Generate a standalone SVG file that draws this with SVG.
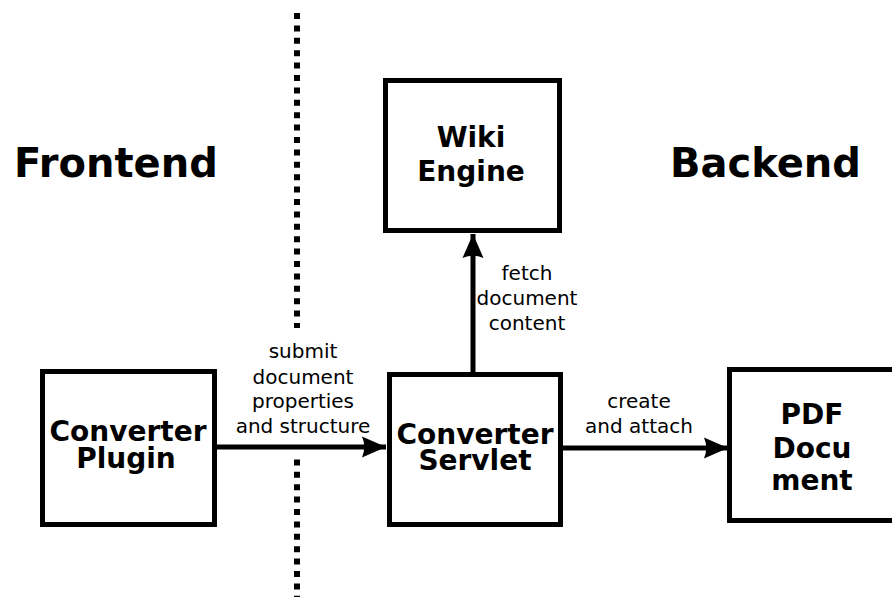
<svg xmlns="http://www.w3.org/2000/svg" width="892" height="597" viewBox="0 0 892 597">
  <style>
    .box { fill: #ffffff; stroke: #000000; stroke-width: 5; }
    .title { font-family: "DejaVu Sans", "Liberation Sans", sans-serif; font-weight: bold; font-size: 40px; fill: #000; }
    .node-label { font-family: "DejaVu Sans", "Liberation Sans", sans-serif; font-weight: bold; font-size: 28px; fill: #000; text-anchor: middle; }
    .edge-label { font-family: "DejaVu Sans", "Liberation Sans", sans-serif; font-size: 20px; fill: #000; text-anchor: middle; }
    .edge { stroke: #000; stroke-width: 5; fill: none; }
    .divider { stroke: #000; stroke-width: 6; stroke-dasharray: 6 6.4; fill: none; }
  </style>
  <defs>
    <marker id="arrow" viewBox="-25 -11 26 22" refX="0" refY="0" markerUnits="userSpaceOnUse" markerWidth="26" markerHeight="22" orient="auto">
      <path d="M0,0 L-24,-10.5 Q-19.5,0 -24,10.5 Z" fill="#000"/>
    </marker>
  </defs>

  <rect width="892" height="597" fill="#ffffff"/>

  <!-- frontend / backend divider -->
  <g id="divider">
    <line class="divider" x1="297" y1="13" x2="297" y2="328"/>
    <line class="divider" x1="297" y1="459.4" x2="297" y2="597"/>
  </g>

  <text class="title" x="14" y="177">Frontend</text>
  <text class="title" x="670" y="177">Backend</text>

  <g id="connectors">
    <line class="edge" x1="217" y1="447" x2="386" y2="447" marker-end="url(#arrow)"/>
    <line class="edge" x1="563" y1="448" x2="728" y2="448" marker-end="url(#arrow)"/>
    <line class="edge" x1="473" y1="372" x2="473" y2="234" marker-end="url(#arrow)"/>
    <text class="edge-label" x="303" y="358">submit</text>
    <text class="edge-label" x="303" y="384">document</text>
    <text class="edge-label" x="303" y="408">properties</text>
    <text class="edge-label" x="303" y="433">and structure</text>
    <text class="edge-label" x="527" y="280">fetch</text>
    <text class="edge-label" x="527" y="305">document</text>
    <text class="edge-label" x="527" y="330">content</text>
    <text class="edge-label" x="639" y="408">create</text>
    <text class="edge-label" x="639" y="433">and attach</text>
  </g>

  <g id="converter-plugin">
    <rect class="box" x="42.5" y="371.5" width="172" height="153"/>
    <text class="node-label" x="128" y="441">Converter</text>
    <text class="node-label" x="126" y="468">Plugin</text>
  </g>

  <g id="converter-servlet">
    <rect class="box" x="389.5" y="374.5" width="171" height="150"/>
    <text class="node-label" x="475" y="444">Converter</text>
    <text class="node-label" x="475" y="470">Servlet</text>
  </g>

  <g id="wiki-engine">
    <rect class="box" x="385.5" y="80.5" width="174" height="150"/>
    <text class="node-label" x="471" y="147">Wiki</text>
    <text class="node-label" x="471" y="181">Engine</text>
  </g>

  <g id="pdf-document">
    <rect class="box" x="729.5" y="369.5" width="200" height="151"/>
    <text class="node-label" x="812" y="424">PDF</text>
    <text class="node-label" x="812" y="458">Docu</text>
    <text class="node-label" x="812" y="490">ment</text>
  </g>
</svg>
